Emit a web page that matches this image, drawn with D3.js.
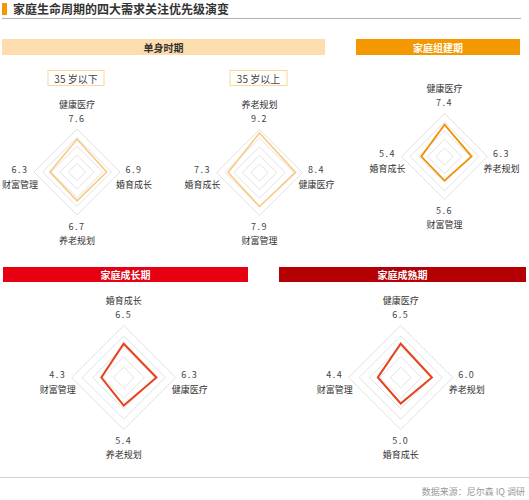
<!DOCTYPE html>
<html>
<head>
<meta charset="utf-8">
<script src="https://cdn.jsdelivr.net/npm/d3@7"></script>
<style>
  body { margin: 0; background: #fff; }
  text { font-family: "Noto Sans CJK SC", "Noto Sans", sans-serif; }
</style>
</head>
<body>
<script>
// chart data
var title = "家庭生命周期的四大需求关注优先级演变";
var source = "数据来源：尼尔森 IQ 调研";
var stages = ["单身时期", "家庭组建期", "家庭成长期", "家庭成熟期"];
var subgroups = ["35 岁以下", "35 岁以上"];

// axis names, clockwise from top
var axesUnder35 = ["健康医疗", "婚育成长", "养老规划", "财富管理"];
var valuesUnder35 = [7.6, 6.9, 6.7, 6.3];
var axesOver35 = ["养老规划", "健康医疗", "财富管理", "婚育成长"];
var valuesOver35 = [9.2, 8.4, 7.9, 7.3];
var axesForming = ["健康医疗", "养老规划", "财富管理", "婚育成长"];
var valuesForming = [7.4, 6.3, 5.6, 5.4];
var axesGrowing = ["婚育成长", "健康医疗", "养老规划", "财富管理"];
var valuesGrowing = [6.5, 6.3, 5.4, 4.3];
var axesMature = ["健康医疗", "养老规划", "婚育成长", "财富管理"];
var valuesMature = [6.5, 6.0, 5.0, 4.4];

var maxValue = 10;
var ringLevels = [2, 4, 6, 8, 10];

var w = 529, h = 500;

var svg = d3.select("body").append("svg")
    .attr("width", w)
    .attr("height", h);

// title block
svg.append("rect")
    .attr("x", 2).attr("y", 3)
    .attr("width", 5).attr("height", 12)
    .style("fill", "#f39800");
svg.append("text")
    .attr("x", 13).attr("y", 13.5)
    .style("font-size", "12px")
    .style("font-weight", "bold")
    .style("fill", "#333")
    .text(title);
svg.append("line")
    .attr("x1", 2).attr("x2", 521)
    .attr("y1", 18.5).attr("y2", 18.5)
    .style("stroke", "#b3b3b3");

// stage header bars
var headers = [
    { x: 2, y: 39, w: 323, h: 16, fill: "#fddcae", color: "#333" },
    { x: 356, y: 39, w: 164, h: 16, fill: "#f39800", color: "#fff" },
    { x: 3, y: 267, w: 245, h: 15, fill: "#e60012", color: "#fff" },
    { x: 279, y: 267, w: 247, h: 15, fill: "#b40005", color: "#fff" }
];

headers.forEach(function (d, i) {
    svg.append("rect")
        .attr("x", d.x).attr("y", d.y)
        .attr("width", d.w).attr("height", d.h)
        .style("fill", d.fill);
    svg.append("text")
        .attr("x", d.x + d.w / 2)
        .attr("y", d.y + d.h / 2)
        .attr("text-anchor", "middle")
        .attr("dominant-baseline", "central")
        .style("font-size", "10px")
        .style("font-weight", "bold")
        .style("fill", d.color)
        .text(stages[i]);
});

// sub group boxes for the single stage
var boxes = [{ cx: 76, w: 56 }, { cx: 258.5, w: 57 }];
boxes.forEach(function (d, i) {
    svg.append("rect")
        .attr("x", d.cx - d.w / 2).attr("y", 70.5)
        .attr("width", d.w).attr("height", 15)
        .style("fill", "none")
        .style("stroke", "#fbd79c");
    svg.append("text")
        .attr("x", d.cx).attr("y", 78)
        .attr("text-anchor", "middle")
        .attr("dominant-baseline", "central")
        .style("font-size", "10px")
        .style("fill", "#444")
        .text(subgroups[i]);
});

// radar layout
var radars = [
    { cx: 77, cy: 172, r: 43, names: axesUnder35, values: valuesUnder35, color: "#fbc77a", sw: 1.5 },
    { cx: 259.5, cy: 172.5, r: 43, names: axesOver35, values: valuesOver35, color: "#fbc77a", sw: 1.5 },
    { cx: 444.5, cy: 156.5, r: 43, names: axesForming, values: valuesForming, color: "#f39000", sw: 1.8 },
    { cx: 123.7, cy: 377.5, r: 52, names: axesGrowing, values: valuesGrowing, color: "#e8421c", sw: 2 },
    { cx: 400.7, cy: 377.5, r: 52, names: axesMature, values: valuesMature, color: "#e8421c", sw: 2 }
];

var format = d3.format(".1f");

radars.forEach(function (cfg) {
    var rScale = d3.scaleLinear().domain([0, maxValue]).range([0, cfg.r]);
    var angle = d3.scaleLinear().domain([0, 4]).range([0, 2 * Math.PI]);

    var line = d3.lineRadial()
        .angle(function (d, i) { return angle(i); })
        .radius(function (d) { return rScale(d); })
        .curve(d3.curveLinearClosed);

    var g = svg.append("g")
        .attr("class", "radar")
        .attr("transform", "translate(" + cfg.cx + "," + cfg.cy + ")");

    // grid rings
    g.selectAll(".ring")
        .data(ringLevels)
        .enter()
        .append("path")
        .attr("class", "ring")
        .attr("d", function (lv) { return line([lv, lv, lv, lv]); })
        .style("fill", "none")
        .style("stroke", "#e2e2e2")
        .style("stroke-width", 1);

    // data shape
    g.append("path")
        .datum(cfg.values)
        .attr("d", line)
        .style("fill", "none")
        .style("stroke", cfg.color)
        .style("stroke-width", cfg.sw)
        .style("stroke-linejoin", "miter");

    // labels: value then axis name
    var edge = rScale(maxValue);
    var pos = [
        { x: 0, yv: -(edge + 11), yn: -(edge + 25) },
        { x: edge + 14, yv: -3, yn: 12 },
        { x: 0, yv: edge + 11, yn: edge + 25 },
        { x: -(edge + 14), yv: -3, yn: 12 }
    ];

    g.selectAll(".val")
        .data(cfg.values)
        .enter()
        .append("text")
        .attr("class", "val")
        .attr("x", function (d, i) { return pos[i].x; })
        .attr("y", function (d, i) { return pos[i].yv; })
        .attr("text-anchor", "middle")
        .attr("dominant-baseline", "central")
        .style("font-size", "9px")
        .style("letter-spacing", "1.5px")
        .style("fill", "#444")
        .text(function (d) { return format(d); });

    g.selectAll(".name")
        .data(cfg.names)
        .enter()
        .append("text")
        .attr("class", "name")
        .attr("x", function (d, i) { return pos[i].x; })
        .attr("y", function (d, i) { return pos[i].yn; })
        .attr("text-anchor", "middle")
        .attr("dominant-baseline", "central")
        .style("font-size", "9px")
        .style("fill", "#333")
        .text(function (d) { return d; });
});

// footer
svg.append("line")
    .attr("x1", 0).attr("x2", 529)
    .attr("y1", 477.5).attr("y2", 477.5)
    .style("stroke", "#cfcfcf");
svg.append("text")
    .attr("x", 525).attr("y", 491)
    .attr("text-anchor", "end")
    .attr("dominant-baseline", "central")
    .style("font-size", "9px")
    .style("fill", "#999")
    .text(source);
</script>
</body>
</html>
